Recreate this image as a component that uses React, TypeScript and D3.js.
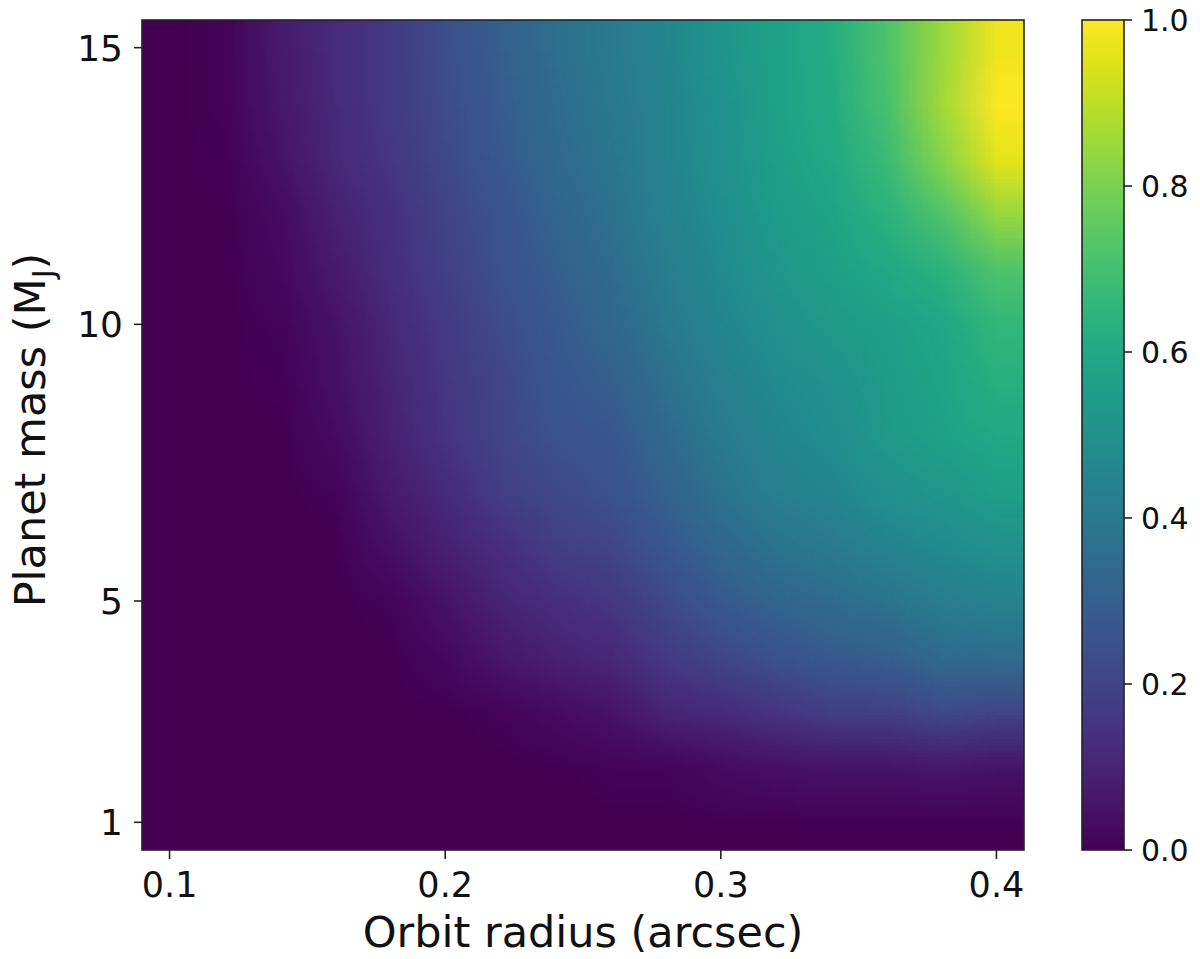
import { useMemo } from "react";
import * as d3 from "d3";

// grid of orbit radii (arcsec) and planet masses (M_J), top row = heaviest
const radii = [0.1, 0.12, 0.14, 0.16, 0.18, 0.2, 0.22, 0.24, 0.26, 0.28, 0.3, 0.32, 0.34, 0.36, 0.38, 0.4];
const masses = [15, 14, 13, 12, 11, 10, 9, 8, 7, 6, 5, 4, 3, 2, 1];

// detection fraction, one row per mass
const detection = [
  [0, 0.01, 0.07, 0.12, 0.17, 0.24, 0.3, 0.36, 0.41, 0.46, 0.52, 0.57, 0.62, 0.72, 0.85, 0.98],
  [0, 0.01, 0.06, 0.12, 0.17, 0.23, 0.29, 0.35, 0.4, 0.45, 0.51, 0.57, 0.61, 0.71, 0.86, 1.0],
  [0, 0.005, 0.05, 0.11, 0.16, 0.22, 0.28, 0.34, 0.39, 0.45, 0.5, 0.56, 0.6, 0.68, 0.82, 0.96],
  [0, 0, 0.03, 0.09, 0.14, 0.2, 0.26, 0.32, 0.37, 0.44, 0.49, 0.55, 0.58, 0.64, 0.72, 0.84],
  [0, 0, 0.02, 0.07, 0.13, 0.19, 0.25, 0.3, 0.35, 0.42, 0.48, 0.53, 0.56, 0.6, 0.64, 0.72],
  [0, 0, 0.01, 0.05, 0.11, 0.17, 0.23, 0.28, 0.33, 0.4, 0.46, 0.5, 0.54, 0.56, 0.59, 0.66],
  [0, 0, 0.005, 0.04, 0.1, 0.16, 0.21, 0.27, 0.3, 0.37, 0.43, 0.48, 0.51, 0.55, 0.58, 0.63],
  [0, 0, 0, 0.03, 0.09, 0.15, 0.21, 0.25, 0.27, 0.34, 0.41, 0.46, 0.49, 0.54, 0.57, 0.6],
  [0, 0, 0, 0.01, 0.07, 0.12, 0.18, 0.22, 0.25, 0.31, 0.38, 0.43, 0.46, 0.5, 0.53, 0.56],
  [0, 0, 0, 0, 0.04, 0.09, 0.13, 0.18, 0.21, 0.27, 0.33, 0.38, 0.41, 0.45, 0.48, 0.5],
  [0, 0, 0, 0, 0.01, 0.05, 0.1, 0.13, 0.16, 0.22, 0.28, 0.32, 0.35, 0.38, 0.42, 0.44],
  [0, 0, 0, 0, 0, 0.02, 0.06, 0.09, 0.11, 0.17, 0.21, 0.25, 0.28, 0.3, 0.34, 0.35],
  [0, 0, 0, 0, 0, 0, 0.01, 0.03, 0.05, 0.1, 0.12, 0.15, 0.18, 0.19, 0.22, 0.2],
  [0, 0, 0, 0, 0, 0, 0, 0, 0.01, 0.01, 0.03, 0.04, 0.05, 0.05, 0.06, 0.05],
  [0, 0, 0, 0, 0, 0, 0, 0, 0, 0, 0, 0, 0, 0, 0, 0],
];

const xTicks = [0.1, 0.2, 0.3, 0.4];
const yTicks = [1, 5, 10, 15];
const cbarTicks = [0, 0.2, 0.4, 0.6, 0.8, 1.0];

const FONT = "DejaVu Sans, sans-serif";

const App = () => {
  const width = 1200;
  const height = 959;
  const plot = { left: 142, right: 1024, top: 20, bottom: 850 };
  const cbar = { left: 1082, right: 1124 };
  const dx = 0.02;

  const x = d3
    .scaleLinear()
    .domain([d3.min(radii)! - dx / 2, d3.max(radii)! + dx / 2])
    .range([plot.left, plot.right]);
  const y = d3
    .scaleLinear()
    .domain([d3.min(masses)! - 0.5, d3.max(masses)! + 0.5])
    .range([plot.bottom, plot.top]);
  const color = d3.scaleSequential(d3.interpolateViridis).domain([0, 1]);
  const cbY = d3.scaleLinear().domain([0, 1]).range([plot.bottom, plot.top]);

  // small raster, the browser smooths it when stretched (like imshow bilinear)
  const href = useMemo(() => {
    const c = document.createElement("canvas");
    c.width = radii.length;
    c.height = masses.length;
    const ctx = c.getContext("2d")!;
    detection.forEach((row, j) =>
      row.forEach((v, i) => {
        ctx.fillStyle = color(v);
        ctx.fillRect(i, j, 1, 1);
      })
    );
    return c.toDataURL();
  }, []);

  const stops = d3.range(0, 1.0001, 0.05);

  return (
    <svg
      width={width}
      height={height}
      style={{ position: "absolute", left: 0, top: 0, background: "#fff" }}
      fontFamily={FONT}
    >
      <defs>
        <linearGradient id="cbarGrad" x1="0" y1="1" x2="0" y2="0">
          {stops.map((s) => (
            <stop key={s} offset={s} stopColor={color(s)} />
          ))}
        </linearGradient>
      </defs>

      <image
        href={href}
        x={plot.left}
        y={plot.top}
        width={plot.right - plot.left}
        height={plot.bottom - plot.top}
        preserveAspectRatio="none"
      />
      <rect
        x={plot.left}
        y={plot.top}
        width={plot.right - plot.left}
        height={plot.bottom - plot.top}
        fill="none"
        stroke="#222"
        strokeWidth={1.6}
      />

      {/* x axis */}
      {xTicks.map((t) => (
        <g key={t} transform={`translate(${x(t)},${plot.bottom})`}>
          <line y2={9} stroke="#222" strokeWidth={1.6} />
          <text y={47} textAnchor="middle" fontSize={35} fill="#111">
            {t.toFixed(1)}
          </text>
        </g>
      ))}
      <text x={(plot.left + plot.right) / 2} y={947} textAnchor="middle" fontSize={43} fill="#111">
        Orbit radius (arcsec)
      </text>

      {/* y axis */}
      {yTicks.map((t) => (
        <g key={t} transform={`translate(${plot.left},${y(t)})`}>
          <line x2={-8} stroke="#222" strokeWidth={1.6} />
          <text x={-19} dy="0.36em" textAnchor="end" fontSize={36} fill="#111">
            {t}
          </text>
        </g>
      ))}
      <text
        transform={`translate(45,430) rotate(-90)`}
        textAnchor="middle"
        fontSize={43}
        fill="#111"
      >
        Planet mass (M
        <tspan fontSize={30} dy={9}>
          J
        </tspan>
        <tspan dy={-9}>)</tspan>
      </text>

      {/* colorbar */}
      <rect
        x={cbar.left}
        y={plot.top}
        width={cbar.right - cbar.left}
        height={plot.bottom - plot.top}
        fill="url(#cbarGrad)"
        stroke="#222"
        strokeWidth={1.6}
      />
      {cbarTicks.map((t) => (
        <g key={t} transform={`translate(${cbar.right},${cbY(t)})`}>
          <line x2={8} stroke="#222" strokeWidth={1.6} />
          <text x={17} dy="0.36em" fontSize={30} fill="#111">
            {t.toFixed(1)}
          </text>
        </g>
      ))}
    </svg>
  );
};

export default App;
